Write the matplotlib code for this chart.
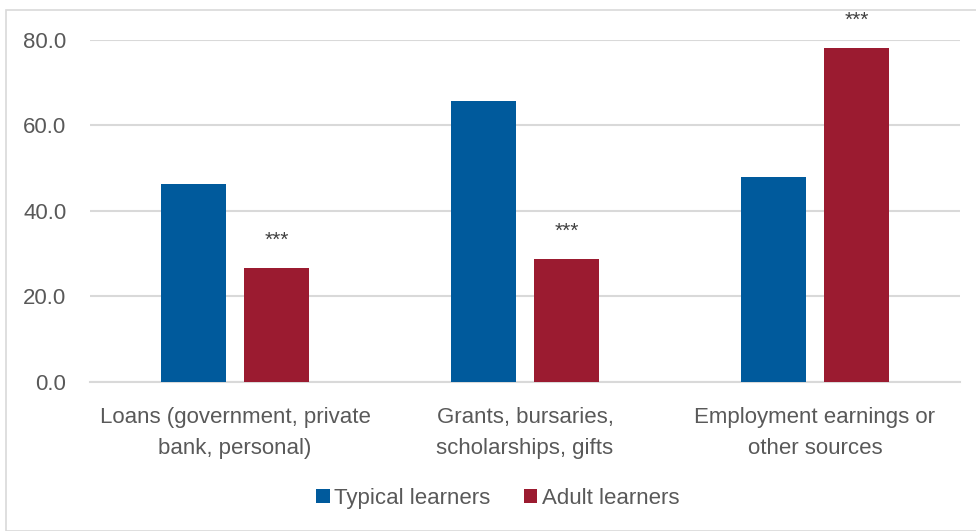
import matplotlib.pyplot as plt
import matplotlib.patches as patches
import numpy as np

plt.rcParams['font.family'] = ['Liberation Sans', 'DejaVu Sans']

categories = ['Loans (government, private\nbank, personal)',
              'Grants, bursaries,\nscholarships, gifts',
              'Employment earnings or\nother sources']
typical = [46.3, 65.7, 48.0]
adult = [26.7, 28.8, 78.1]
adult_sig = ['***', '***', '***']
yticks = [0, 20, 40, 60, 80]

blue = '#005A9C'
red = '#9B1B30'
txt = '#595959'
grid = '#d9d9d9'

fig = plt.figure(figsize=(9.76, 5.31), dpi=100)
fig.set_facecolor('white')
ax = fig.add_axes([0.0922, 0.2806, 0.8914, 0.6441])

x = np.arange(len(categories))
w = 0.224
off = 0.143
b1 = ax.bar(x - off, typical, w, color=blue, label='Typical learners', zorder=3)
b2 = ax.bar(x + off, adult, w, color=red, label='Adult learners', zorder=3)

# significance stars above adult bars
for xi, v, s in zip(x, adult, adult_sig):
    ax.annotate(s, (xi + off, v), xytext=(0, 20), textcoords='offset points',
                ha='center', va='center', fontsize=15, color='#404040',
                annotation_clip=False)

ax.set_xlim(-0.5, 2.5)
ax.set_ylim(0, 80)
ax.set_yticks(yticks)
ax.set_yticklabels([f'{t:.1f}' for t in yticks])
ax.yaxis.grid(True, color=grid, linewidth=1.5, zorder=0)
ax.set_axisbelow(True)
for sp in ['top', 'right', 'left']:
    ax.spines[sp].set_visible(False)
ax.spines['bottom'].set_color(grid)
ax.spines['bottom'].set_linewidth(1.5)
ax.tick_params(axis='y', length=0, pad=17, labelsize=16, labelcolor=txt)
ax.set_xticks(x)
ax.set_xticklabels(categories, linespacing=1.65)
ax.tick_params(axis='x', length=0, pad=18, labelsize=16, labelcolor=txt)

leg = fig.legend(handles=[b1, b2], loc='center', bbox_to_anchor=(0.51, 0.062),
                 ncol=2, frameon=False, fontsize=16, handlelength=0.6,
                 handleheight=0.6, handletextpad=0.2, columnspacing=1.5)
for t in leg.get_texts():
    t.set_color(txt)

# outer frame
fig.patches.append(patches.Rectangle((6 / 976, 0), 1 - 6 / 976 + 0.01, 1 - 10 / 531,
                                     transform=fig.transFigure, fill=False,
                                     edgecolor=grid, linewidth=1.2))

fig.savefig('out.png', dpi=100, facecolor='white')
